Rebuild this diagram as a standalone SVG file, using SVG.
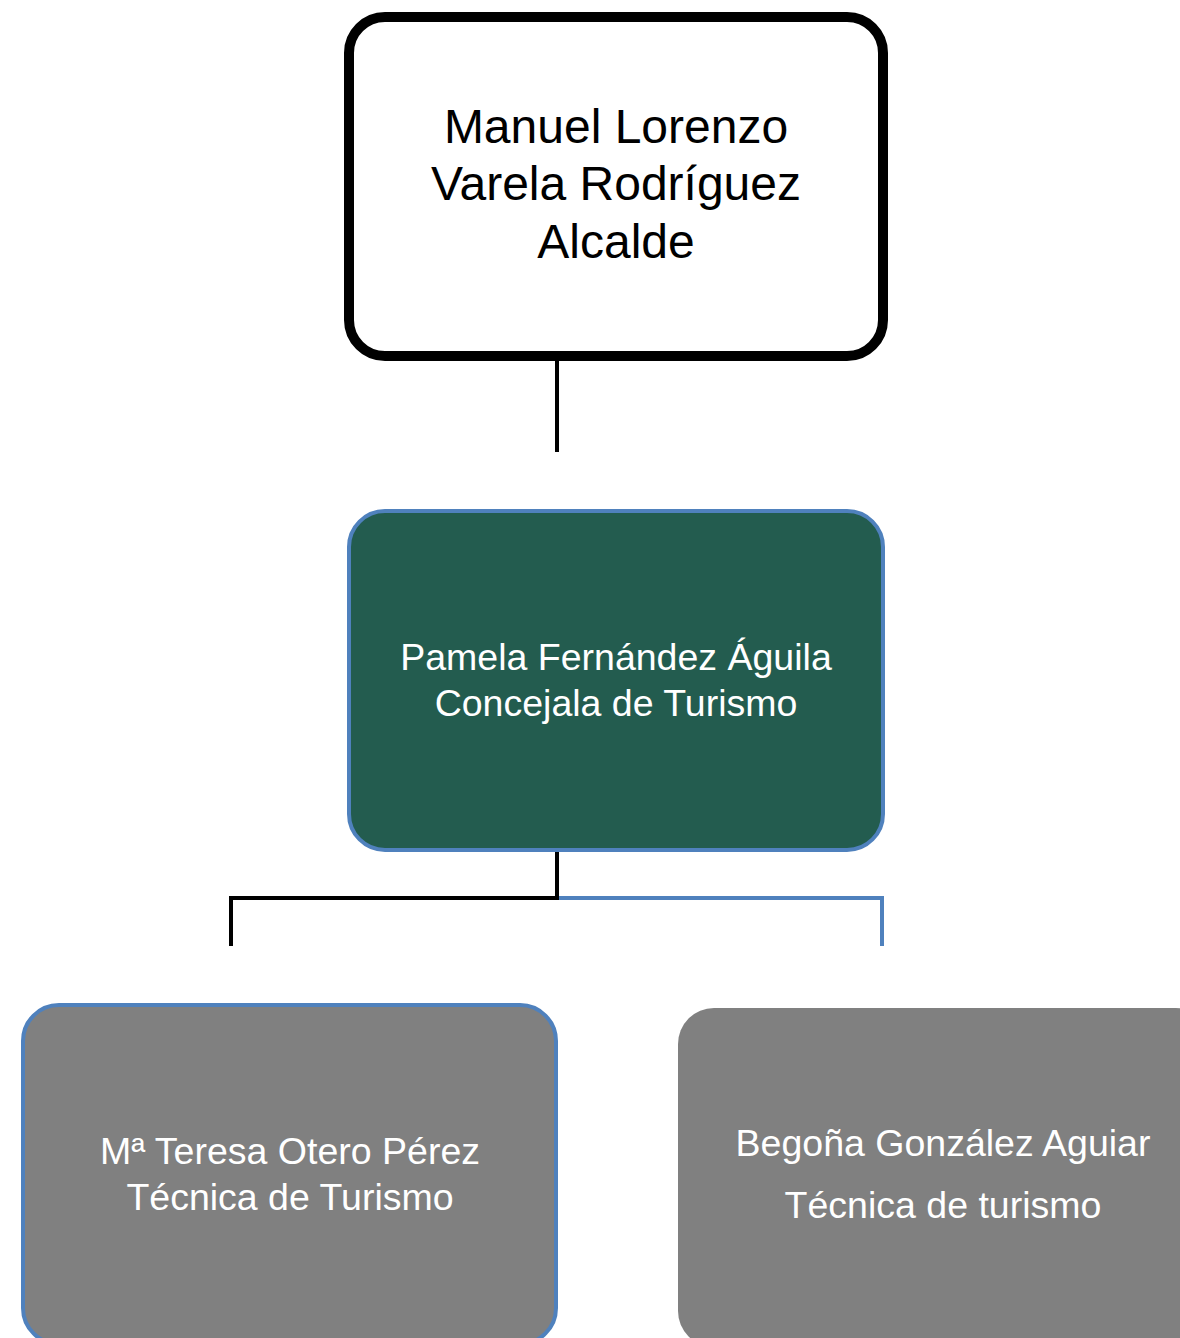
<svg xmlns="http://www.w3.org/2000/svg" width="1180" height="1338" viewBox="0 0 1180 1338">
<style>
.t{font-family:"Liberation Sans",Arial,sans-serif;text-anchor:middle}
.tk{fill:#000000;font-size:48px}
.tw{fill:#ffffff;font-size:37.5px}
.blk{stroke:#000000;stroke-width:4;fill:none}
.blu{stroke:#4F81BD;stroke-width:4;fill:none}
</style>
<rect width="1180" height="1338" fill="#ffffff"/>
<g id="connectors">
<line class="blk" x1="557" y1="358" x2="557" y2="452"/>
<polyline class="blu" points="557,898 882,898 882,946"/>
<polyline class="blk" points="557,850 557,898 231,898 231,946"/>
</g>
<g id="node-alcalde">
<rect x="349" y="17" width="534" height="339" rx="36" fill="#ffffff" stroke="#000000" stroke-width="10"/>
<text class="t tk" x="616" y="143">Manuel Lorenzo</text>
<text class="t tk" x="616" y="200">Varela Rodríguez</text>
<text class="t tk" x="616" y="258">Alcalde</text>
</g>
<g id="node-concejala">
<rect x="349" y="511" width="534" height="339" rx="36" fill="#235C4F" stroke="#4F81BD" stroke-width="4"/>
<text class="t tw" x="616" y="670">Pamela Fernández Águila</text>
<text class="t tw" x="616" y="716">Concejala de Turismo</text>
</g>
<g id="node-teresa">
<rect x="23" y="1005" width="533" height="339" rx="36" fill="#808080" stroke="#4F81BD" stroke-width="4"/>
<text class="t tw" x="290" y="1164">Mª Teresa Otero Pérez</text>
<text class="t tw" x="290" y="1210">Técnica de Turismo</text>
</g>
<g id="node-begona">
<rect x="678" y="1008" width="534" height="339" rx="36" fill="#808080"/>
<text class="t tw" x="943" y="1156">Begoña González Aguiar</text>
<text class="t tw" x="943" y="1218">Técnica de turismo</text>
</g>
</svg>
